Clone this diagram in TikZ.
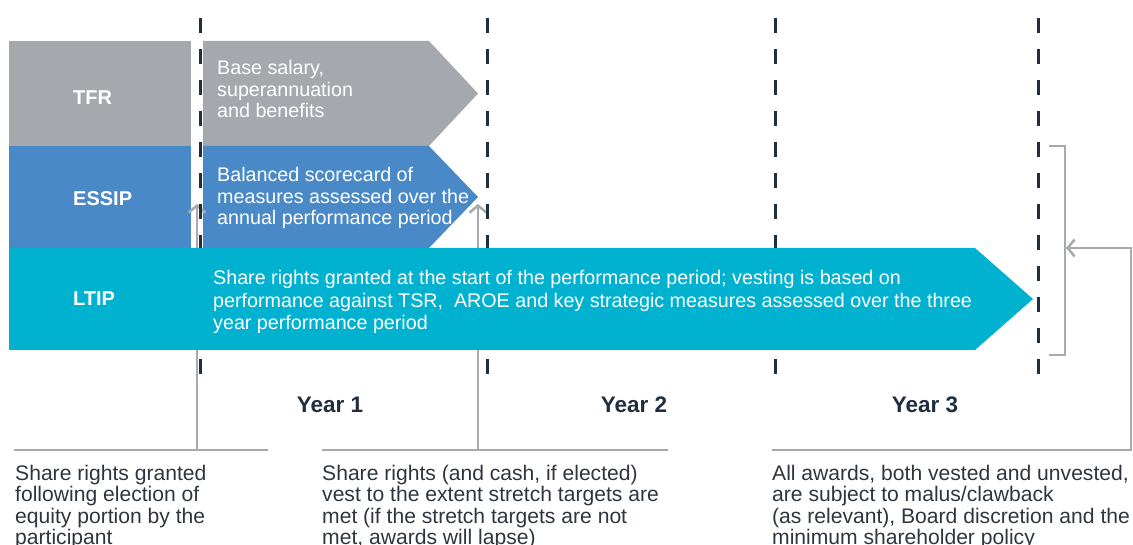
\documentclass[tikz,border=0pt]{standalone}
\usepackage{fontspec}
\setmainfont{Liberation Sans}
\usetikzlibrary{arrows.meta,positioning}

\definecolor{tfrgrey}{HTML}{A5A9AD}
\definecolor{essipblue}{HTML}{4A89C8}
\definecolor{ltipcyan}{HTML}{00B2CF}
\definecolor{darkline}{HTML}{1F2F3E}
\definecolor{linkgrey}{HTML}{A7ABAF}
\definecolor{notetext}{HTML}{2D3640}

\lineskiplimit=-100pt

\tikzset{
  bandlabel/.style={text=white, font=\fontsize{20}{21}\selectfont\bfseries, inner sep=0pt, anchor=base west},
  bandtext/.style={text=white, font=\fontsize{19.7}{21.2}\selectfont, align=left, inner sep=0pt, anchor=base west},
  yearlabel/.style={text=darkline, font=\fontsize{22.5}{24}\selectfont\bfseries, inner sep=0pt, anchor=base},
  note/.style={text=notetext, font=\fontsize{21.1}{21.3}\selectfont, align=left, inner sep=0pt, anchor=base west},
  yearline/.style={draw=darkline, line width=3pt, dash pattern=on 15pt off 16pt},
  link/.style={draw=linkgrey, line width=2.5pt},
  linkarrow/.style={link, -{Straight Barb[length=7pt,width=17pt]}}
}

\begin{document}
\begin{tikzpicture}[x=1pt, y=-1pt]
\useasboundingbox (0,0) rectangle (1133,545);

\coordinate (n1a) at (14,450);
\coordinate (n1b) at (268,450);
\coordinate (n1up) at (197,450);
\coordinate (granted) at (197,204);
\coordinate (n2a) at (322,450);
\coordinate (n2b) at (668,450);
\coordinate (n2up) at (478,450);
\coordinate (vested) at (478,204);
\coordinate (n3a) at (772,450);
\coordinate (n3b) at (1131,450);
\coordinate (n3c) at (1131,248);
\coordinate (malus) at (1066,248);
\coordinate (brtop) at (1049,146);
\coordinate (brbot) at (1049,355);

\fill[tfrgrey] (9,41) rectangle (191,146);
\fill[tfrgrey] (203,41) -- (429,41) -- (478,93.5) -- (429,146) -- (203,146) -- cycle;
\fill[essipblue] (9,146) rectangle (191,248);
\fill[essipblue] (203,146) -- (429,146) -- (478,197) -- (429,248) -- (203,248) -- cycle;

\draw[link] (n1a) -- (n1b);
\draw[linkarrow] (n1up) -- (granted);
\draw[link] (n2a) -- (n2b);
\draw[linkarrow] (n2up) -- (vested);
\draw[linkarrow] (n3a) -- (n3b) -- (n3c) -- (malus);
\draw[link] (brtop) -| (1065,250) |- (brbot);

\foreach \x in {200,487,775,1038}
  \draw[yearline] (\x,18) -- (\x,375);

\fill[ltipcyan] (9,248) -- (975,248) -- (1033,299) -- (975,350) -- (9,350) -- cycle;

\node (tfr) [bandlabel] at (73,105) {TFR};
\node (essip) [bandlabel] at (73,206) {ESSIP};
\node (ltip) [bandlabel] at (73,306) {LTIP};

% base anchor of a multi-line node sits on its last line
\node (tfrtext) [bandtext] at (217,117.4) {Base salary,\\superannuation\\and benefits};
\node (essiptext) [bandtext] at (217,224.4) {Balanced scorecard of\\measures assessed over the\\annual performance period};
\node (ltiptext) [bandtext, font=\fontsize{19.7}{22.5}\selectfont] at (213,330) {Share rights granted at the start of the performance period; vesting is based on\\performance against TSR,\ \ AROE and key strategic measures assessed over the three\\year performance period};

\node (year1) [yearlabel] at (330,412.5) {Year 1};
\node (year2) [yearlabel] at (634,412.5) {Year 2};
\node (year3) [yearlabel] at (925,412.5) {Year 3};

\node (note1) [note] at (15,544.4) {Share rights granted\\following election of\\equity portion by the\\participant};
\node (note2) [note] at (322,544.4) {Share rights (and cash, if elected)\\vest to the extent stretch targets are\\met (if the stretch targets are not\\met, awards will lapse)};
\node (note3) [note] at (772,544.4) {All awards, both vested and unvested,\\are subject to malus/clawback\\(as relevant), Board discretion and the\\minimum shareholder policy};
\end{tikzpicture}
\end{document}
